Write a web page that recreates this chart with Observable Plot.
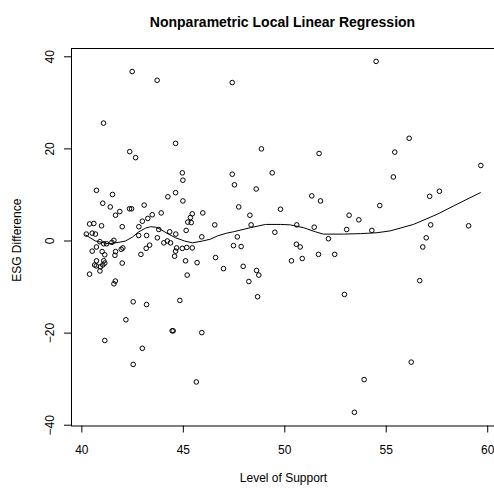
<!DOCTYPE html>
<html>
<head>
<meta charset="utf-8">
<script src="https://cdn.jsdelivr.net/npm/d3@7"></script>
<script src="https://cdn.jsdelivr.net/npm/@observablehq/plot@0.6"></script>
<style>
  html, body { margin: 0; padding: 0; background: #fff; }
</style>
</head>
<body>
<div id="chart"></div>
<script>
const titleText = "Nonparametric Local Linear Regression";
const xLabel = "Level of Support";
const yLabel = "ESG Difference";
const xTicks = [40, 45, 50, 55, 60];
const yTicks = [-40, -20, 0, 20, 40];

// Observed points: Level of Support (x) and ESG Difference (y)
const support = [
  41.07, 42.48, 43.71, 47.41, 54.50, 44.62, 42.36, 42.65, 40.72, 41.51,
  41.03, 41.40, 41.87, 41.66, 42.35, 42.45, 43.07, 44.62, 44.24, 43.91,
  43.47, 43.25, 42.98, 42.81, 41.99, 40.59, 40.38, 40.97, 40.22, 40.51,
  40.67, 40.89, 41.08, 41.22, 41.48, 41.58, 42.80, 43.19, 43.79, 44.33,
  44.63, 43.72, 44.04, 44.21, 44.37, 44.67, 44.62, 44.57, 40.51, 40.72,
  41.00, 41.13, 41.08, 41.13, 41.03, 40.92, 40.71, 40.63, 40.89, 40.38,
  41.66, 41.94, 42.02, 41.63, 41.99, 42.91, 43.17, 43.34, 41.65, 41.58,
  42.53, 43.19, 42.17, 41.13, 42.98, 42.53, 44.45, 44.50, 44.83, 44.95,
  44.98, 47.41, 47.52, 49.38, 48.59, 48.85, 44.98, 47.73, 45.44, 45.35,
  45.22, 45.39, 45.96, 45.14, 46.55, 48.28, 48.34, 49.79, 49.51, 45.91,
  47.66, 44.95, 45.17, 45.44, 45.11, 45.68, 45.19, 46.59, 40.72, 51.69,
  51.33, 51.76, 53.17, 53.65, 54.68, 50.59, 51.45, 52.15, 53.05, 54.29,
  50.57, 50.76, 50.33, 50.86, 51.66, 52.46, 52.94, 53.91, 53.43, 47.47,
  47.85, 46.98, 47.95, 48.61, 48.72, 48.23, 48.66, 45.91, 45.64, 56.13,
  55.42, 55.35, 59.66, 57.14, 57.62, 57.19, 59.06, 56.97, 56.80, 56.65,
  56.23
];
const esgDiff = [
  25.6, 36.8, 34.9, 34.4, 39.0, 21.2, 19.4, 18.1, 11.0, 10.1,
  8.2, 7.4, 6.4, 5.6, 7.0, 7.0, 7.8, 10.5, 9.6, 6.1,
  5.7, 4.9, 4.3, 3.1, 3.1, 3.8, 3.7, 3.3, 1.5, 1.7,
  1.5, -0.15, -0.6, -0.6, -0.3, 0.15, 1.2, 1.2, 2.5, 2.0,
  1.5, 0.7, -0.4, 0.0, -0.4, -1.5, -2.2, -3.3, -2.2, -1.3,
  -2.3, -3.0, -4.3, -4.8, -5.2, -5.6, -5.4, -5.2, -6.5, -7.2,
  -2.3, -1.8, -1.5, -3.1, -4.8, -2.9, -1.6, -0.9, -8.7, -9.3,
  -13.2, -13.8, -17.1, -21.6, -23.3, -26.8, -19.5, -19.5, -12.9, 14.8,
  13.2, 14.5, 12.2, 14.8, 11.3, 20.0, 8.7, 7.4, 5.9, 5.1,
  4.1, 4.0, 6.1, 2.3, 3.5, 5.6, 3.5, 6.9, 1.9, 0.9,
  0.9, -1.6, -1.4, -1.5, -4.3, -4.7, -7.4, -3.6, -4.3, 19.0,
  9.8, 8.7, 5.6, 4.6, 7.7, 3.5, 3.0, 0.5, 2.5, 2.3,
  -0.7, -1.3, -4.3, -3.8, -2.9, -2.9, -11.6, -30.1, -37.2, -1.0,
  -1.2, -6.0, -5.5, -6.4, -7.4, -8.8, -12.1, -19.9, -30.6, 22.3,
  19.3, 13.9, 16.4, 9.7, 10.8, 3.5, 3.3, 0.7, -1.3, -8.6,
  -26.3
];

// Local linear regression fit
const fitX = [
  40.19, 40.67, 41.32, 41.81, 42.15, 42.50, 42.79, 43.14, 43.38, 43.63,
  43.88, 44.27, 44.62, 45.06, 45.45, 45.95, 46.34, 46.68, 47.13, 47.47,
  48.31, 49.05, 49.79, 50.28, 50.92, 51.51, 51.90, 52.89, 53.73, 54.55,
  55.20, 56.34, 57.51, 58.49, 59.64
];
const fitY = [
  1.3, 0.0, -0.6, -0.3, 0.0, 0.87, 1.95, 2.8, 3.1, 3.0,
  2.5, 1.5, 0.7, 0.0, -0.4, 0.0, 0.4, 1.1, 1.7, 2.0,
  2.9, 3.6, 3.6, 3.5, 2.9, 2.0, 1.5, 1.5, 1.6, 1.8,
  2.2, 3.6, 5.8, 8.0, 10.5
];

const points = support.map((x, i) => ({x, y: esgDiff[i]}));
const fit = fitX.map((x, i) => ({x, y: fitY[i]}));

const chart = Plot.plot({
  width: 494,
  height: 488,
  marginLeft: 71,
  marginRight: -6,
  marginTop: 48,
  marginBottom: 62.5,
  style: {fontFamily: "'Liberation Sans', Arial, sans-serif", fontSize: "12px", color: "black", background: "white"},
  x: {domain: [39.49, 60.63]},
  y: {domain: [-40.17, 41.8]},
  marks: [
    Plot.frame({stroke: "black", strokeWidth: 1}),
    Plot.axisX({ticks: xTicks, tickSize: 7, tickPadding: 12, label: null, fontSize: 12}),
    Plot.axisY({ticks: yTicks, tickSize: 7, tickPadding: 11, tickRotate: -90, label: null, fontSize: 12}),
    Plot.dot(points, {x: "x", y: "y", r: 2.3, stroke: "black", strokeWidth: 1, fill: "none"}),
    Plot.line(fit, {x: "x", y: "y", stroke: "black", strokeWidth: 1, curve: "linear"}),
    Plot.text([titleText], {text: d => d, frameAnchor: "top", dy: -31, dx: -3.5, fontWeight: "bold", fontSize: 14}),
    Plot.text([xLabel], {text: d => d, frameAnchor: "bottom", dy: 56, dx: -2.5, fontSize: 12}),
    Plot.text([yLabel], {text: d => d, frameAnchor: "left", textAnchor: "middle", dx: -54, dy: 3, rotate: -90, fontSize: 12})
  ]
});
document.getElementById("chart").appendChild(chart);
</script>
</body>
</html>
